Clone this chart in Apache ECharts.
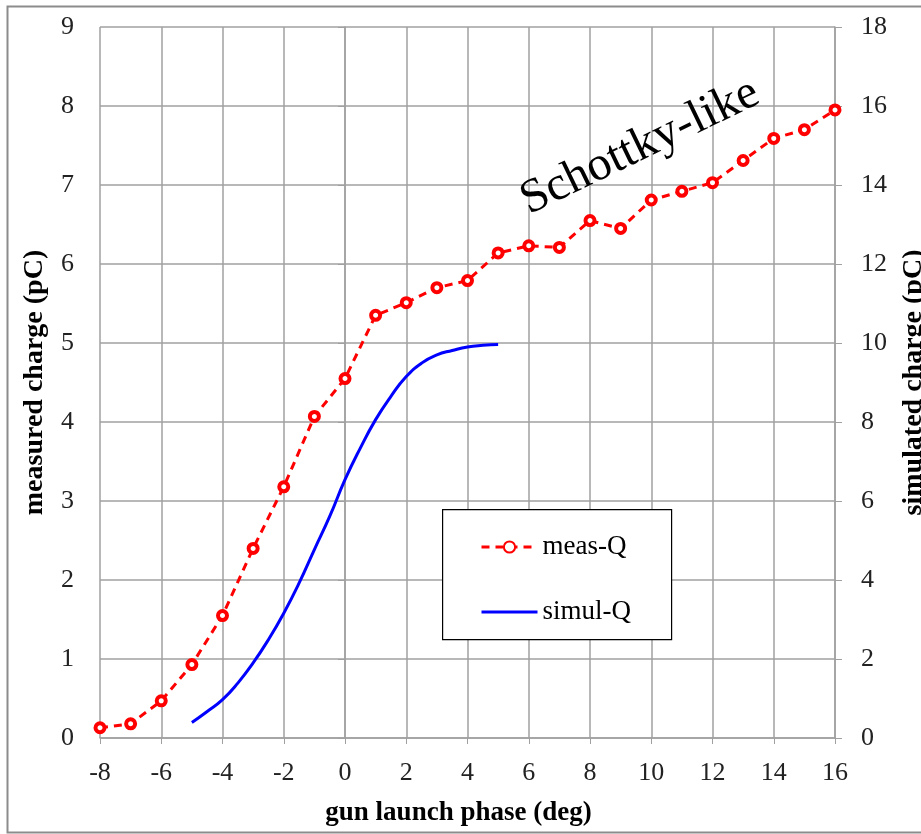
<!DOCTYPE html>
<html>
<head>
<meta charset="utf-8">
<script src="https://cdn.jsdelivr.net/npm/echarts@6/dist/echarts.min.js"></script>
<style>
html,body{margin:0;padding:0;background:#fff;}
#c{width:921px;height:834px;}
</style>
</head>
<body>
<div id="c"></div>
<script>
// gun launch phase (deg) for measured points
var measPhase = [-8,-7,-6,-5,-4,-3,-2,-1,0,1,2,3,4,5,6,7,8,9,10,11,12,13,14,15,16];
// measured charge (pC)
var measQ = [0.13,0.18,0.47,0.93,1.55,2.40,3.18,4.07,4.55,5.35,5.51,5.70,5.79,6.14,6.23,6.21,6.55,6.45,6.81,6.92,7.03,7.31,7.59,7.70,7.95];
// simulated curve phase (deg)
var simPhase = [-5,-4.5,-4,-3.5,-3,-2.5,-2,-1.5,-1,-0.5,0,0.5,1,1.5,2,2.5,3,3.5,4,4.5,5];
// simulated charge (pC)
var simQ = [0.39,0.67,0.97,1.39,1.90,2.49,3.16,3.92,4.77,5.61,6.54,7.34,8.06,8.65,9.15,9.49,9.70,9.81,9.90,9.94,9.96];

var xTicks = {min:-8, max:16, interval:2};
var yLeftTicks = {min:0, max:9, interval:1};
var yRightTicks = {min:0, max:18, interval:2};

var font = '"Liberation Serif", "Times New Roman", serif';
var gridColor = '#a0a0a0';

function pairs(xs, ys){ return xs.map(function(x,i){ return [x, ys[i]]; }); }

var chart = echarts.init(document.getElementById('c'), null, {renderer:'canvas'});
chart.setOption({
  backgroundColor: '#fff',
  animation: false,
  textStyle: {fontFamily: font},
  grid: {left: 100, right: 86, top: 27, bottom: 96, containLabel: false, outerBoundsMode: 'none'},
  xAxis: {
    type: 'value', min: xTicks.min, max: xTicks.max, interval: xTicks.interval,
    name: 'gun launch phase (deg)', nameLocation: 'middle', nameGap: 62,
    nameTextStyle: {fontFamily: font, fontSize: 27, fontWeight: 'bold', color: '#000', padding: [0, 18, 0, 0]},
    axisLine: {onZero: false, lineStyle: {color: gridColor, width: 1.5}},
    axisTick: {show: true, length: 6, lineStyle: {color: gridColor}},
    axisLabel: {fontFamily: font, fontSize: 26, color: '#222', margin: 22},
    splitLine: {show: true, lineStyle: {color: gridColor, width: 1.5}}
  },
  yAxis: [{
    type: 'value', min: yLeftTicks.min, max: yLeftTicks.max, interval: yLeftTicks.interval,
    name: 'measured charge (pC)', nameLocation: 'middle', nameGap: 51,
    nameTextStyle: {fontFamily: font, fontSize: 28, fontWeight: 'bold', color: '#000'},
    axisLine: {show: true, lineStyle: {color: gridColor, width: 1.5}},
    axisTick: {show: true, length: 7, lineStyle: {color: gridColor}},
    axisLabel: {fontFamily: font, fontSize: 26, color: '#222', margin: 26},
    splitLine: {show: true, lineStyle: {color: gridColor, width: 1.5}}
  },{
    type: 'value', min: yRightTicks.min, max: yRightTicks.max, interval: yRightTicks.interval,
    position: 'right',
    name: 'simulated charge (pC)', nameLocation: 'middle', nameGap: 65,
    nameRotate: 90,
    nameTextStyle: {fontFamily: font, fontSize: 28, fontWeight: 'bold', color: '#000'},
    axisLine: {show: true, lineStyle: {color: gridColor, width: 1.5}},
    axisTick: {show: true, length: 7, lineStyle: {color: gridColor}},
    axisLabel: {fontFamily: font, fontSize: 26, color: '#222', margin: 26},
    splitLine: {show: false}
  }],
  legend: {
    orient: 'vertical', left: 475, top: 528, z: 20,
    itemWidth: 56, itemHeight: 14, itemGap: 37,
    lineStyle: {width: 3},
    textStyle: {fontFamily: font, fontSize: 27, color: '#000', lineHeight: 28},
    data: ['meas-Q', {name: 'simul-Q', itemStyle: {opacity: 0}}]
  },
  series: [{
    name: 'meas-Q', type: 'line', yAxisIndex: 0,
    data: pairs(measPhase, measQ),
    lineStyle: {color: '#ff0000', width: 3, type: [8, 6]},
    itemStyle: {color: '#fff', borderColor: '#ff0000', borderWidth: 4},
    symbol: 'circle', symbolSize: 9, showSymbol: true,
    z: 3
  },{
    name: 'simul-Q', type: 'line', yAxisIndex: 1,
    data: pairs(simPhase, simQ),
    smooth: true, showSymbol: false, symbol: 'none',
    lineStyle: {color: '#0000ff', width: 3},
    itemStyle: {color: '#0000ff'},
    z: 2
  }],
  graphic: [
    {type: 'rect', left: 5, top: 4, z: -10, silent: true,
     shape: {width: 960, height: 826}, style: {fill: 'none', stroke: '#8c8c8c', lineWidth: 2}},
    {type: 'rect', left: 442, top: 509, z: 1, silent: true,
     shape: {width: 229, height: 130}, style: {fill: '#fff', stroke: '#000', lineWidth: 1.2}},
    {type: 'text', x: 640, y: 147, rotation: 0.45, z: 6, silent: true,
     style: {text: 'Schottky-like', fontFamily: font, fontSize: 48, fill: '#000',
             textAlign: 'center', textVerticalAlign: 'middle'}}
  ]
});
</script>
</body>
</html>
